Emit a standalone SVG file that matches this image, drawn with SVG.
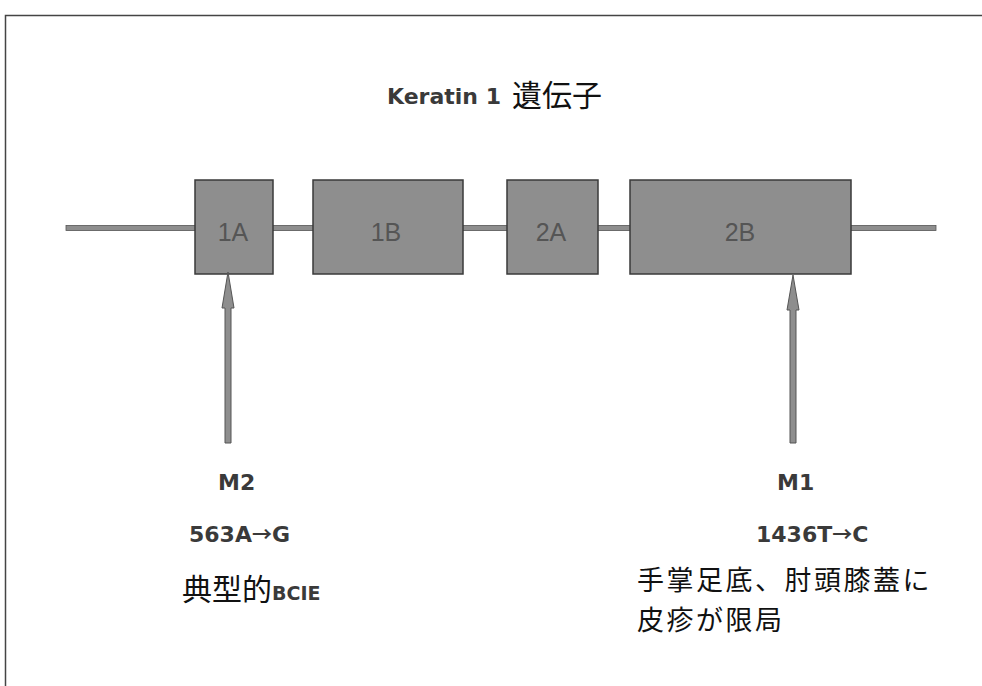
<svg xmlns="http://www.w3.org/2000/svg" width="982" height="686" viewBox="0 0 982 686">
<defs>
<style>
.exon{fill:#8e8e8e;stroke:#3a3a3a;stroke-width:1.5}
.elab{font-family:"Liberation Sans","Noto Sans",sans-serif;font-size:25px;fill:#555;text-anchor:middle}
.b{font-family:"DejaVu Sans","Noto Sans",sans-serif;font-weight:bold;fill:#3a3a3a}
.j{font-family:"Noto Sans CJK JP",sans-serif;fill:#111}
.shaft{fill:#8e8e8e;stroke:#555;stroke-width:1}
</style>
</defs>
<rect width="982" height="686" fill="#fff"/>
<g id="frame" stroke="#444" stroke-width="1.5" fill="none">
<path d="M5.5 686 V15.5 H982"/>
</g>
<g id="title">
<text x="387" y="104" class="b" font-size="22">Keratin 1</text>
<text x="512" y="106" class="j" font-size="30">遺伝子</text>
</g>
<g id="gene-line">
<rect x="66" y="225.5" width="870" height="5" fill="#8e8e8e" stroke="#555" stroke-width="0.8"/>
</g>
<g id="exon-1A"><rect class="exon" x="195" y="180" width="78" height="94"/><text class="elab" x="233" y="241">1A</text></g>
<g id="exon-1B"><rect class="exon" x="313" y="180" width="150" height="94"/><text class="elab" x="386" y="241">1B</text></g>
<g id="exon-2A"><rect class="exon" x="507" y="180" width="91" height="94"/><text class="elab" x="551" y="241">2A</text></g>
<g id="exon-2B"><rect class="exon" x="630" y="180" width="221" height="94"/><text class="elab" x="740" y="241">2B</text></g>
<g id="connectors">
<path class="shaft" d="M225 443 V308 L222 308 L228 272 L234 308 L231 308 V443 Z"/>
<path class="shaft" d="M790 443 V310 L787 310 L793 275 L799 310 L796 310 V443 Z"/>
</g>
<g id="m2">
<text x="218" y="490" class="b" font-size="22">M2</text>
<text x="189" y="542" class="b" font-size="22">563A<tspan font-family="Noto Sans CJK JP,sans-serif" font-size="20">→</tspan>G</text>
<text x="182" y="600" class="j" font-size="30">典型的<tspan class="b" font-size="19">BCIE</tspan></text>
</g>
<g id="m1">
<text x="637" y="590" class="j" font-size="27" letter-spacing="2.5">手掌足底、肘頭膝蓋に</text>
<text x="637" y="629.5" class="j" font-size="27" letter-spacing="2.5">皮疹が限局</text>
<text x="777" y="490" class="b" font-size="22">M1</text>
<text x="756" y="542" class="b" font-size="22">1436T<tspan font-family="Noto Sans CJK JP,sans-serif" font-size="20">→</tspan>C</text>
</g>
</svg>
